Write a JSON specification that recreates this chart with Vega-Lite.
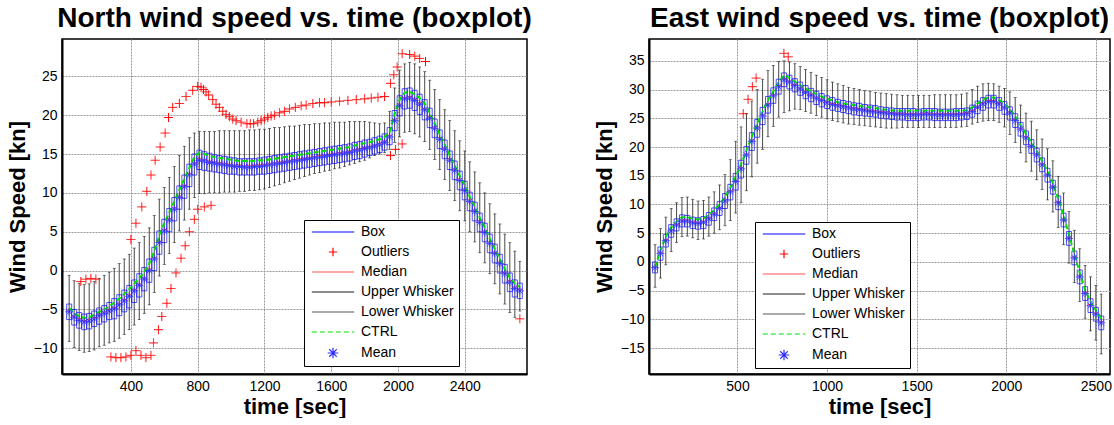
{
"$schema":"https://vega.github.io/schema/vega-lite/v6.json",
"padding":{"left":5,"top":4,"right":0,"bottom":0},
"spacing":122,
"bounds":"flush",
"resolve":{"scale":{"color":"independent","shape":"independent","strokeDash":"independent"},"legend":{"color":"independent","shape":"independent","strokeDash":"independent"}},
"datasets":{
"N":[
{"t":30,"lo":-9.1,"q1":-6.3,"md":-5.1,"q3":-4.3,"hi":-0.6,"mn":-5.3,"c":-4.8},
{"t":60,"lo":-9.9,"q1":-7.0,"md":-5.8,"q3":-5.0,"hi":-1.3,"mn":-6.0,"c":-5.5},
{"t":90,"lo":-10.3,"q1":-7.4,"md":-6.2,"q3":-5.4,"hi":-1.6,"mn":-6.4,"c":-5.9},
{"t":120,"lo":-10.5,"q1":-7.6,"md":-6.4,"q3":-5.6,"hi":-1.8,"mn":-6.6,"c":-6.1},
{"t":150,"lo":-10.4,"q1":-7.5,"md":-6.3,"q3":-5.5,"hi":-1.7,"mn":-6.5,"c":-6.0},
{"t":180,"lo":-10.2,"q1":-7.2,"md":-6.0,"q3":-5.2,"hi":-1.4,"mn":-6.2,"c":-5.7},
{"t":210,"lo":-9.8,"q1":-6.9,"md":-5.6,"q3":-4.8,"hi":-1.0,"mn":-5.8,"c":-5.3},
{"t":240,"lo":-9.6,"q1":-6.6,"md":-5.3,"q3":-4.5,"hi":-0.6,"mn":-5.5,"c":-5.0},
{"t":270,"lo":-9.3,"q1":-6.3,"md":-5.0,"q3":-4.1,"hi":-0.2,"mn":-5.2,"c":-4.6},
{"t":300,"lo":-9.1,"q1":-6.2,"md":-4.7,"q3":-3.6,"hi":0.3,"mn":-4.9,"c":-4.1},
{"t":330,"lo":-8.7,"q1":-5.8,"md":-4.2,"q3":-3.1,"hi":0.9,"mn":-4.4,"c":-3.6},
{"t":360,"lo":-8.2,"q1":-5.3,"md":-3.7,"q3":-2.5,"hi":1.5,"mn":-3.9,"c":-3.0},
{"t":390,"lo":-7.6,"q1":-4.8,"md":-3.1,"q3":-1.9,"hi":2.1,"mn":-3.3,"c":-2.4},
{"t":420,"lo":-7.0,"q1":-4.1,"md":-2.4,"q3":-1.2,"hi":2.9,"mn":-2.6,"c":-1.7},
{"t":450,"lo":-6.3,"q1":-3.4,"md":-1.7,"q3":-0.4,"hi":3.6,"mn":-1.9,"c":-1.0},
{"t":480,"lo":-5.5,"q1":-2.6,"md":-0.9,"q3":0.4,"hi":4.4,"mn":-1.1,"c":-0.2},
{"t":510,"lo":-4.4,"q1":-1.5,"md":0.2,"q3":1.5,"hi":5.5,"mn":0.0,"c":0.9},
{"t":540,"lo":-2.8,"q1":0.0,"md":1.7,"q3":3.0,"hi":7.1,"mn":1.5,"c":2.5},
{"t":570,"lo":-0.7,"q1":2.1,"md":3.8,"q3":5.1,"hi":9.2,"mn":3.6,"c":4.6},
{"t":600,"lo":0.8,"q1":3.6,"md":5.3,"q3":6.6,"hi":10.7,"mn":5.1,"c":6.1},
{"t":630,"lo":2.2,"q1":5.0,"md":6.7,"q3":8.0,"hi":12.0,"mn":6.5,"c":7.5},
{"t":660,"lo":3.6,"q1":6.4,"md":8.1,"q3":9.4,"hi":13.4,"mn":7.9,"c":8.9},
{"t":690,"lo":5.1,"q1":7.9,"md":9.6,"q3":10.9,"hi":14.8,"mn":9.4,"c":10.4},
{"t":720,"lo":6.5,"q1":9.3,"md":11.0,"q3":12.3,"hi":16.0,"mn":10.8,"c":11.8},
{"t":750,"lo":7.9,"q1":10.8,"md":12.5,"q3":13.7,"hi":17.1,"mn":12.3,"c":13.2},
{"t":780,"lo":9.4,"q1":12.3,"md":13.9,"q3":15.0,"hi":17.7,"mn":13.7,"c":14.6},
{"t":810,"lo":9.9,"q1":13.0,"md":14.4,"q3":15.5,"hi":17.9,"mn":14.2,"c":15.2},
{"t":840,"lo":9.9,"q1":12.9,"md":14.3,"q3":15.3,"hi":17.9,"mn":14.1,"c":15.0},
{"t":870,"lo":10.0,"q1":12.8,"md":14.1,"q3":15.1,"hi":17.9,"mn":13.9,"c":14.8},
{"t":900,"lo":10.0,"q1":12.7,"md":14.0,"q3":14.9,"hi":17.9,"mn":13.8,"c":14.6},
{"t":930,"lo":10.0,"q1":12.6,"md":13.9,"q3":14.8,"hi":18.0,"mn":13.7,"c":14.5},
{"t":960,"lo":10.1,"q1":12.5,"md":13.8,"q3":14.7,"hi":18.0,"mn":13.6,"c":14.4},
{"t":990,"lo":10.1,"q1":12.4,"md":13.7,"q3":14.6,"hi":18.0,"mn":13.5,"c":14.3},
{"t":1020,"lo":10.1,"q1":12.4,"md":13.6,"q3":14.5,"hi":18.0,"mn":13.4,"c":14.2},
{"t":1050,"lo":10.2,"q1":12.3,"md":13.6,"q3":14.4,"hi":18.0,"mn":13.4,"c":14.1},
{"t":1080,"lo":10.2,"q1":12.3,"md":13.5,"q3":14.4,"hi":18.0,"mn":13.3,"c":14.1},
{"t":1110,"lo":10.3,"q1":12.3,"md":13.5,"q3":14.4,"hi":18.1,"mn":13.3,"c":14.1},
{"t":1140,"lo":10.3,"q1":12.3,"md":13.6,"q3":14.4,"hi":18.1,"mn":13.4,"c":14.1},
{"t":1170,"lo":10.4,"q1":12.4,"md":13.6,"q3":14.5,"hi":18.2,"mn":13.4,"c":14.2},
{"t":1200,"lo":10.5,"q1":12.4,"md":13.7,"q3":14.6,"hi":18.2,"mn":13.5,"c":14.2},
{"t":1230,"lo":10.7,"q1":12.5,"md":13.8,"q3":14.7,"hi":18.3,"mn":13.6,"c":14.3},
{"t":1260,"lo":10.9,"q1":12.6,"md":13.9,"q3":14.8,"hi":18.4,"mn":13.7,"c":14.4},
{"t":1290,"lo":11.1,"q1":12.7,"md":14.0,"q3":14.9,"hi":18.4,"mn":13.8,"c":14.5},
{"t":1320,"lo":11.3,"q1":12.8,"md":14.1,"q3":15.0,"hi":18.5,"mn":13.9,"c":14.6},
{"t":1350,"lo":11.5,"q1":12.9,"md":14.2,"q3":15.1,"hi":18.6,"mn":14.0,"c":14.7},
{"t":1380,"lo":11.7,"q1":13.0,"md":14.3,"q3":15.2,"hi":18.6,"mn":14.1,"c":14.8},
{"t":1410,"lo":11.9,"q1":13.1,"md":14.4,"q3":15.3,"hi":18.7,"mn":14.2,"c":14.9},
{"t":1440,"lo":12.1,"q1":13.2,"md":14.5,"q3":15.4,"hi":18.8,"mn":14.3,"c":15.0},
{"t":1470,"lo":12.3,"q1":13.3,"md":14.6,"q3":15.5,"hi":18.8,"mn":14.4,"c":15.1},
{"t":1500,"lo":12.5,"q1":13.4,"md":14.7,"q3":15.6,"hi":18.9,"mn":14.5,"c":15.2},
{"t":1530,"lo":12.6,"q1":13.5,"md":14.8,"q3":15.7,"hi":18.9,"mn":14.6,"c":15.3},
{"t":1560,"lo":12.8,"q1":13.6,"md":14.9,"q3":15.8,"hi":19.0,"mn":14.7,"c":15.4},
{"t":1590,"lo":12.9,"q1":13.7,"md":15.0,"q3":15.9,"hi":19.0,"mn":14.8,"c":15.5},
{"t":1620,"lo":13.1,"q1":13.8,"md":15.1,"q3":16.0,"hi":19.1,"mn":14.9,"c":15.6},
{"t":1650,"lo":13.2,"q1":13.9,"md":15.2,"q3":16.1,"hi":19.1,"mn":15.0,"c":15.7},
{"t":1680,"lo":13.4,"q1":14.0,"md":15.3,"q3":16.2,"hi":19.1,"mn":15.1,"c":15.8},
{"t":1710,"lo":13.6,"q1":14.1,"md":15.4,"q3":16.3,"hi":19.2,"mn":15.2,"c":15.9},
{"t":1740,"lo":13.8,"q1":14.3,"md":15.6,"q3":16.5,"hi":19.2,"mn":15.4,"c":16.1},
{"t":1770,"lo":14.0,"q1":14.4,"md":15.7,"q3":16.6,"hi":19.2,"mn":15.5,"c":16.2},
{"t":1800,"lo":14.2,"q1":14.6,"md":15.9,"q3":16.8,"hi":19.2,"mn":15.7,"c":16.4},
{"t":1830,"lo":14.5,"q1":14.8,"md":16.0,"q3":16.9,"hi":19.1,"mn":15.8,"c":16.5},
{"t":1860,"lo":14.8,"q1":15.0,"md":16.2,"q3":17.1,"hi":19.0,"mn":16.0,"c":16.7},
{"t":1890,"lo":15.0,"q1":15.2,"md":16.4,"q3":17.3,"hi":18.9,"mn":16.2,"c":16.9},
{"t":1920,"lo":15.2,"q1":15.5,"md":16.7,"q3":17.6,"hi":19.0,"mn":16.5,"c":17.2},
{"t":1950,"lo":15.6,"q1":16.2,"md":17.4,"q3":18.4,"hi":20.5,"mn":17.2,"c":17.8},
{"t":1980,"lo":16.5,"q1":18.0,"md":19.5,"q3":20.6,"hi":23.5,"mn":19.3,"c":20.2},
{"t":2010,"lo":17.2,"q1":19.9,"md":21.4,"q3":22.5,"hi":25.8,"mn":21.2,"c":22.0},
{"t":2040,"lo":17.8,"q1":20.8,"md":22.3,"q3":23.4,"hi":26.6,"mn":22.1,"c":22.9},
{"t":2070,"lo":17.9,"q1":20.9,"md":22.4,"q3":23.5,"hi":26.8,"mn":22.2,"c":23.0},
{"t":2100,"lo":17.6,"q1":20.6,"md":22.1,"q3":23.2,"hi":26.6,"mn":21.9,"c":22.7},
{"t":2130,"lo":17.2,"q1":20.1,"md":21.6,"q3":22.7,"hi":26.2,"mn":21.4,"c":22.2},
{"t":2160,"lo":16.6,"q1":19.4,"md":20.9,"q3":22.0,"hi":25.6,"mn":20.7,"c":21.5},
{"t":2190,"lo":15.6,"q1":18.4,"md":19.8,"q3":20.9,"hi":24.5,"mn":19.6,"c":20.3},
{"t":2220,"lo":14.3,"q1":17.1,"md":18.5,"q3":19.5,"hi":23.3,"mn":18.3,"c":18.9},
{"t":2250,"lo":13.0,"q1":15.7,"md":17.1,"q3":18.1,"hi":22.0,"mn":16.9,"c":17.5},
{"t":2280,"lo":11.7,"q1":14.4,"md":15.8,"q3":16.8,"hi":20.7,"mn":15.6,"c":16.2},
{"t":2310,"lo":10.3,"q1":13.0,"md":14.4,"q3":15.4,"hi":19.3,"mn":14.2,"c":14.8},
{"t":2340,"lo":9.0,"q1":11.7,"md":13.1,"q3":14.1,"hi":18.0,"mn":12.9,"c":13.5},
{"t":2370,"lo":7.7,"q1":10.4,"md":11.8,"q3":12.8,"hi":16.7,"mn":11.6,"c":12.2},
{"t":2400,"lo":6.4,"q1":9.1,"md":10.5,"q3":11.5,"hi":15.4,"mn":10.3,"c":10.9},
{"t":2430,"lo":5.0,"q1":7.7,"md":9.1,"q3":10.1,"hi":14.0,"mn":8.9,"c":9.5},
{"t":2460,"lo":3.7,"q1":6.4,"md":7.8,"q3":8.8,"hi":12.7,"mn":7.6,"c":8.2},
{"t":2490,"lo":2.3,"q1":5.0,"md":6.4,"q3":7.4,"hi":11.3,"mn":6.2,"c":6.8},
{"t":2520,"lo":1.0,"q1":3.7,"md":5.1,"q3":6.1,"hi":10.0,"mn":4.9,"c":5.5},
{"t":2550,"lo":-0.4,"q1":2.3,"md":3.7,"q3":4.7,"hi":8.6,"mn":3.5,"c":4.1},
{"t":2580,"lo":-1.7,"q1":1.0,"md":2.4,"q3":3.4,"hi":7.3,"mn":2.2,"c":2.8},
{"t":2610,"lo":-3.0,"q1":-0.3,"md":1.1,"q3":2.1,"hi":6.0,"mn":0.9,"c":1.5},
{"t":2640,"lo":-4.3,"q1":-1.6,"md":-0.2,"q3":0.8,"hi":4.7,"mn":-0.4,"c":0.2},
{"t":2670,"lo":-5.4,"q1":-2.7,"md":-1.3,"q3":-0.3,"hi":3.6,"mn":-1.5,"c":-0.9},
{"t":2700,"lo":-6.0,"q1":-3.4,"md":-2.1,"q3":-1.2,"hi":2.5,"mn":-2.3,"c":-1.7},
{"t":2730,"lo":-5.2,"q1":-3.6,"md":-2.4,"q3":-1.6,"hi":1.2,"mn":-2.6,"c":-2.1}
],
"No":[
{"t":100,"v":-1.4,"s":"Outliers"},{"t":130,"v":-1.1,"s":"Outliers"},{"t":160,"v":-1.0,"s":"Outliers"},{"t":190,"v":-1.1,"s":"Outliers"},
{"t":280,"v":-11.1,"s":"Outliers"},{"t":310,"v":-11.2,"s":"Outliers"},{"t":340,"v":-11.2,"s":"Outliers"},{"t":370,"v":-11.1,"s":"Outliers"},{"t":400,"v":-10.9,"s":"Outliers"},{"t":430,"v":-10.3,"s":"Outliers"},{"t":460,"v":-10.9,"s":"Outliers"},{"t":490,"v":-11.2,"s":"Outliers"},{"t":520,"v":-10.9,"s":"Outliers"},
{"t":400,"v":4.0,"s":"Outliers"},{"t":430,"v":6.1,"s":"Outliers"},{"t":465,"v":8.2,"s":"Outliers"},{"t":495,"v":10.2,"s":"Outliers"},{"t":520,"v":12.3,"s":"Outliers"},{"t":545,"v":14.2,"s":"Outliers"},{"t":575,"v":15.9,"s":"Outliers"},{"t":605,"v":17.7,"s":"Outliers"},{"t":625,"v":19.7,"s":"Outliers"},{"t":650,"v":21.0,"s":"Outliers"},{"t":690,"v":21.5,"s":"Outliers"},{"t":730,"v":22.4,"s":"Outliers"},{"t":770,"v":23.2,"s":"Outliers"},{"t":800,"v":23.7,"s":"Outliers"},{"t":820,"v":23.6,"s":"Outliers"},{"t":835,"v":23.3,"s":"Outliers"},{"t":850,"v":23.0,"s":"Outliers"},{"t":865,"v":22.6,"s":"Outliers"},{"t":890,"v":22.0,"s":"Outliers"},{"t":910,"v":21.4,"s":"Outliers"},{"t":930,"v":21.0,"s":"Outliers"},{"t":950,"v":20.5,"s":"Outliers"},{"t":970,"v":20.1,"s":"Outliers"},{"t":990,"v":19.8,"s":"Outliers"},{"t":1010,"v":19.5,"s":"Outliers"},{"t":1030,"v":19.3,"s":"Outliers"},{"t":1060,"v":19.1,"s":"Outliers"},{"t":1095,"v":18.9,"s":"Outliers"},{"t":1115,"v":18.9,"s":"Outliers"},{"t":1135,"v":18.9,"s":"Outliers"},{"t":1160,"v":19.1,"s":"Outliers"},{"t":1180,"v":19.3,"s":"Outliers"},{"t":1200,"v":19.5,"s":"Outliers"},{"t":1220,"v":19.7,"s":"Outliers"},{"t":1240,"v":19.9,"s":"Outliers"},{"t":1260,"v":20.0,"s":"Outliers"},{"t":1290,"v":20.3,"s":"Outliers"},{"t":1320,"v":20.5,"s":"Outliers"},{"t":1350,"v":20.8,"s":"Outliers"},{"t":1385,"v":21.0,"s":"Outliers"},{"t":1420,"v":21.2,"s":"Outliers"},{"t":1450,"v":21.3,"s":"Outliers"},{"t":1490,"v":21.5,"s":"Outliers"},{"t":1530,"v":21.6,"s":"Outliers"},{"t":1560,"v":21.6,"s":"Outliers"},{"t":1600,"v":21.7,"s":"Outliers"},{"t":1650,"v":21.8,"s":"Outliers"},{"t":1700,"v":21.9,"s":"Outliers"},{"t":1750,"v":22.0,"s":"Outliers"},{"t":1800,"v":22.1,"s":"Outliers"},{"t":1840,"v":22.2,"s":"Outliers"},{"t":1880,"v":22.3,"s":"Outliers"},{"t":1920,"v":22.4,"s":"Outliers"},
{"t":1955,"v":24.1,"s":"Outliers"},{"t":1975,"v":25.2,"s":"Outliers"},{"t":1995,"v":26.2,"s":"Outliers"},{"t":2025,"v":27.9,"s":"Outliers"},{"t":2070,"v":27.8,"s":"Outliers"},{"t":2100,"v":27.6,"s":"Outliers"},{"t":2130,"v":27.3,"s":"Outliers"},{"t":2165,"v":26.9,"s":"Outliers"},
{"t":535,"v":-9.3,"s":"Outliers"},{"t":565,"v":-7.6,"s":"Outliers"},{"t":585,"v":-5.9,"s":"Outliers"},{"t":615,"v":-4.2,"s":"Outliers"},{"t":640,"v":-2.3,"s":"Outliers"},{"t":670,"v":-0.3,"s":"Outliers"},{"t":700,"v":1.6,"s":"Outliers"},{"t":725,"v":3.2,"s":"Outliers"},{"t":750,"v":5.0,"s":"Outliers"},{"t":780,"v":6.6,"s":"Outliers"},{"t":800,"v":7.9,"s":"Outliers"},{"t":840,"v":8.2,"s":"Outliers"},{"t":880,"v":8.4,"s":"Outliers"},
{"t":1955,"v":14.8,"s":"Outliers"},{"t":1985,"v":15.6,"s":"Outliers"},{"t":2025,"v":16.3,"s":"Outliers"},
{"t":2730,"v":-6.2,"s":"Outliers"}
],
"E":[
{"t":40,"lo":-4.4,"q1":-1.9,"md":-0.8,"q3":0.0,"hi":3.0,"mn":-1.0,"c":-0.9},
{"t":70,"lo":-2.8,"q1":0.3,"md":1.7,"q3":2.6,"hi":5.8,"mn":1.5,"c":2.0},
{"t":100,"lo":-0.5,"q1":2.6,"md":3.9,"q3":4.8,"hi":7.8,"mn":3.7,"c":4.4},
{"t":130,"lo":1.8,"q1":4.3,"md":5.6,"q3":6.5,"hi":9.3,"mn":5.4,"c":6.0},
{"t":160,"lo":3.4,"q1":5.4,"md":6.6,"q3":7.5,"hi":10.3,"mn":6.4,"c":7.0},
{"t":190,"lo":4.4,"q1":6.1,"md":7.3,"q3":8.2,"hi":11.2,"mn":7.1,"c":7.8},
{"t":220,"lo":4.5,"q1":6.1,"md":7.3,"q3":8.1,"hi":11.3,"mn":7.1,"c":7.8},
{"t":250,"lo":4.2,"q1":5.8,"md":7.0,"q3":7.8,"hi":10.9,"mn":6.8,"c":7.5},
{"t":280,"lo":3.9,"q1":5.7,"md":6.9,"q3":7.7,"hi":10.6,"mn":6.7,"c":7.4},
{"t":310,"lo":4.0,"q1":5.8,"md":7.1,"q3":7.9,"hi":10.7,"mn":6.9,"c":7.6},
{"t":340,"lo":4.5,"q1":6.4,"md":7.7,"q3":8.6,"hi":11.3,"mn":7.5,"c":8.2},
{"t":370,"lo":5.0,"q1":7.2,"md":8.5,"q3":9.4,"hi":12.2,"mn":8.3,"c":9.0},
{"t":400,"lo":5.6,"q1":8.1,"md":9.5,"q3":10.5,"hi":13.4,"mn":9.3,"c":10.0},
{"t":430,"lo":6.3,"q1":9.3,"md":10.8,"q3":11.9,"hi":15.2,"mn":10.6,"c":11.3},
{"t":460,"lo":7.2,"q1":10.8,"md":12.4,"q3":13.5,"hi":17.8,"mn":12.2,"c":12.9},
{"t":490,"lo":8.5,"q1":12.5,"md":14.2,"q3":15.4,"hi":21.0,"mn":14.0,"c":14.8},
{"t":520,"lo":10.3,"q1":14.6,"md":16.4,"q3":17.7,"hi":23.5,"mn":16.2,"c":17.0},
{"t":550,"lo":12.4,"q1":17.0,"md":18.8,"q3":20.1,"hi":25.8,"mn":18.6,"c":19.4},
{"t":580,"lo":14.8,"q1":19.4,"md":21.2,"q3":22.5,"hi":28.0,"mn":21.0,"c":21.8},
{"t":610,"lo":17.2,"q1":21.7,"md":23.5,"q3":24.8,"hi":30.0,"mn":23.3,"c":24.1},
{"t":640,"lo":19.6,"q1":23.9,"md":25.6,"q3":26.9,"hi":31.8,"mn":25.4,"c":26.2},
{"t":670,"lo":21.8,"q1":25.9,"md":27.5,"q3":28.8,"hi":33.3,"mn":27.3,"c":28.1},
{"t":700,"lo":23.6,"q1":27.6,"md":29.1,"q3":30.3,"hi":34.2,"mn":28.9,"c":29.7},
{"t":730,"lo":25.2,"q1":29.2,"md":30.7,"q3":31.8,"hi":34.9,"mn":30.5,"c":31.3},
{"t":760,"lo":26.0,"q1":30.5,"md":31.9,"q3":32.9,"hi":35.0,"mn":31.7,"c":32.5},
{"t":790,"lo":26.3,"q1":30.1,"md":31.5,"q3":32.5,"hi":34.8,"mn":31.3,"c":32.0},
{"t":820,"lo":26.6,"q1":29.6,"md":30.9,"q3":31.9,"hi":34.5,"mn":30.7,"c":31.4},
{"t":850,"lo":26.5,"q1":29.0,"md":30.3,"q3":31.3,"hi":34.0,"mn":30.1,"c":30.8},
{"t":880,"lo":26.2,"q1":28.4,"md":29.7,"q3":30.7,"hi":33.5,"mn":29.5,"c":30.2},
{"t":910,"lo":25.9,"q1":27.9,"md":29.2,"q3":30.2,"hi":33.0,"mn":29.0,"c":29.7},
{"t":940,"lo":25.5,"q1":27.4,"md":28.7,"q3":29.7,"hi":32.5,"mn":28.5,"c":29.2},
{"t":970,"lo":25.2,"q1":27.0,"md":28.3,"q3":29.3,"hi":32.1,"mn":28.1,"c":28.8},
{"t":1000,"lo":24.9,"q1":26.7,"md":27.9,"q3":28.9,"hi":31.7,"mn":27.7,"c":28.4},
{"t":1030,"lo":24.6,"q1":26.4,"md":27.6,"q3":28.6,"hi":31.3,"mn":27.4,"c":28.1},
{"t":1060,"lo":24.4,"q1":26.2,"md":27.4,"q3":28.3,"hi":31.0,"mn":27.2,"c":27.8},
{"t":1090,"lo":24.2,"q1":26.0,"md":27.2,"q3":28.1,"hi":30.7,"mn":27.0,"c":27.6},
{"t":1120,"lo":24.0,"q1":25.8,"md":27.0,"q3":27.9,"hi":30.4,"mn":26.8,"c":27.4},
{"t":1150,"lo":23.9,"q1":25.6,"md":26.8,"q3":27.7,"hi":30.2,"mn":26.6,"c":27.3},
{"t":1180,"lo":23.8,"q1":25.5,"md":26.7,"q3":27.6,"hi":30.0,"mn":26.5,"c":27.2},
{"t":1210,"lo":23.7,"q1":25.4,"md":26.6,"q3":27.4,"hi":29.8,"mn":26.4,"c":27.0},
{"t":1240,"lo":23.6,"q1":25.3,"md":26.4,"q3":27.3,"hi":29.7,"mn":26.2,"c":26.9},
{"t":1270,"lo":23.5,"q1":25.2,"md":26.3,"q3":27.2,"hi":29.5,"mn":26.1,"c":26.8},
{"t":1300,"lo":23.4,"q1":25.0,"md":26.2,"q3":27.0,"hi":29.4,"mn":26.0,"c":26.6},
{"t":1330,"lo":23.3,"q1":24.9,"md":26.1,"q3":26.9,"hi":29.3,"mn":25.9,"c":26.5},
{"t":1360,"lo":23.3,"q1":24.8,"md":26.0,"q3":26.8,"hi":29.2,"mn":25.8,"c":26.4},
{"t":1390,"lo":23.3,"q1":24.7,"md":25.9,"q3":26.7,"hi":29.1,"mn":25.7,"c":26.3},
{"t":1420,"lo":23.4,"q1":24.7,"md":25.9,"q3":26.7,"hi":29.0,"mn":25.7,"c":26.3},
{"t":1450,"lo":23.4,"q1":24.6,"md":25.8,"q3":26.7,"hi":29.0,"mn":25.6,"c":26.3},
{"t":1480,"lo":23.4,"q1":24.6,"md":25.8,"q3":26.7,"hi":29.0,"mn":25.6,"c":26.3},
{"t":1510,"lo":23.4,"q1":24.6,"md":25.8,"q3":26.6,"hi":29.0,"mn":25.6,"c":26.3},
{"t":1540,"lo":23.4,"q1":24.7,"md":25.9,"q3":26.7,"hi":29.0,"mn":25.7,"c":26.3},
{"t":1570,"lo":23.4,"q1":24.7,"md":25.9,"q3":26.7,"hi":29.0,"mn":25.7,"c":26.3},
{"t":1600,"lo":23.4,"q1":24.6,"md":25.8,"q3":26.7,"hi":29.1,"mn":25.6,"c":26.3},
{"t":1630,"lo":23.4,"q1":24.6,"md":25.8,"q3":26.6,"hi":29.1,"mn":25.6,"c":26.3},
{"t":1660,"lo":23.4,"q1":24.6,"md":25.8,"q3":26.6,"hi":29.1,"mn":25.6,"c":26.3},
{"t":1690,"lo":23.4,"q1":24.6,"md":25.8,"q3":26.6,"hi":29.1,"mn":25.6,"c":26.3},
{"t":1720,"lo":23.4,"q1":24.6,"md":25.8,"q3":26.7,"hi":29.1,"mn":25.6,"c":26.3},
{"t":1750,"lo":23.5,"q1":24.7,"md":25.9,"q3":26.7,"hi":29.2,"mn":25.7,"c":26.3},
{"t":1780,"lo":23.6,"q1":24.8,"md":26.0,"q3":26.8,"hi":29.4,"mn":25.8,"c":26.4},
{"t":1810,"lo":24.0,"q1":25.2,"md":26.4,"q3":27.3,"hi":30.0,"mn":26.2,"c":26.9},
{"t":1840,"lo":24.3,"q1":25.8,"md":27.1,"q3":28.0,"hi":30.6,"mn":26.9,"c":27.6},
{"t":1870,"lo":24.5,"q1":26.4,"md":27.7,"q3":28.6,"hi":31.0,"mn":27.5,"c":28.2},
{"t":1900,"lo":24.6,"q1":26.8,"md":28.1,"q3":29.0,"hi":31.1,"mn":27.9,"c":28.6},
{"t":1930,"lo":24.6,"q1":26.8,"md":28.1,"q3":29.0,"hi":31.0,"mn":27.9,"c":28.6},
{"t":1960,"lo":24.3,"q1":26.4,"md":27.7,"q3":28.6,"hi":30.6,"mn":27.5,"c":28.2},
{"t":1990,"lo":23.5,"q1":25.7,"md":27.0,"q3":27.9,"hi":30.2,"mn":26.8,"c":27.5},
{"t":2020,"lo":22.2,"q1":24.7,"md":26.1,"q3":27.0,"hi":29.6,"mn":25.9,"c":26.6},
{"t":2050,"lo":20.8,"q1":23.4,"md":24.8,"q3":25.8,"hi":28.6,"mn":24.6,"c":25.3},
{"t":2080,"lo":19.0,"q1":21.9,"md":23.3,"q3":24.3,"hi":27.3,"mn":23.1,"c":23.8},
{"t":2110,"lo":17.4,"q1":20.4,"md":21.8,"q3":22.8,"hi":25.9,"mn":21.6,"c":22.3},
{"t":2140,"lo":15.8,"q1":18.9,"md":20.3,"q3":21.3,"hi":24.5,"mn":20.1,"c":20.8},
{"t":2170,"lo":14.3,"q1":17.4,"md":18.8,"q3":19.8,"hi":23.0,"mn":18.6,"c":19.3},
{"t":2200,"lo":12.6,"q1":15.7,"md":17.1,"q3":18.1,"hi":21.4,"mn":16.9,"c":17.6},
{"t":2230,"lo":10.8,"q1":13.9,"md":15.3,"q3":16.3,"hi":19.7,"mn":15.1,"c":15.8},
{"t":2260,"lo":8.7,"q1":11.8,"md":13.2,"q3":14.2,"hi":17.6,"mn":13.0,"c":13.7},
{"t":2290,"lo":6.0,"q1":9.1,"md":10.5,"q3":11.5,"hi":14.9,"mn":10.3,"c":11.0},
{"t":2320,"lo":3.0,"q1":6.1,"md":7.5,"q3":8.5,"hi":12.0,"mn":7.3,"c":8.0},
{"t":2350,"lo":-0.2,"q1":2.9,"md":4.3,"q3":5.3,"hi":8.8,"mn":4.1,"c":4.8},
{"t":2380,"lo":-3.6,"q1":-0.5,"md":0.9,"q3":1.9,"hi":5.5,"mn":0.7,"c":1.4},
{"t":2410,"lo":-6.9,"q1":-3.8,"md":-2.4,"q3":-1.4,"hi":2.3,"mn":-2.6,"c":-1.9},
{"t":2440,"lo":-9.8,"q1":-6.7,"md":-5.3,"q3":-4.3,"hi":-0.6,"mn":-5.5,"c":-4.8},
{"t":2470,"lo":-12.0,"q1":-8.8,"md":-7.4,"q3":-6.4,"hi":-2.6,"mn":-7.6,"c":-6.9},
{"t":2500,"lo":-13.6,"q1":-10.3,"md":-8.9,"q3":-7.9,"hi":-4.1,"mn":-9.1,"c":-8.4},
{"t":2530,"lo":-16.0,"q1":-11.8,"md":-10.4,"q3":-9.4,"hi":-5.6,"mn":-10.6,"c":-9.9}
],
"Eo":[
{"t":532,"v":25.8,"s":"Outliers"},{"t":559,"v":28.3,"s":"Outliers"},{"t":583,"v":30.5,"s":"Outliers"},{"t":604,"v":32.0,"s":"Outliers"},{"t":759,"v":36.3,"s":"Outliers"},{"t":783,"v":35.7,"s":"Outliers"}
]
},
"hconcat":[
{
"width":465,"height":335,
"title":"North wind speed vs. time (boxplot)",
"encoding":{"x":{"field":"t","type":"quantitative","title":"time [sec]","scale":{"domain":[17,2743],"nice":false,"zero":false},"axis":{"values":[400,800,1200,1600,2000,2400],"format":"d","tickCount":30}}},
"layer":[
{"data":{"name":"N"},"mark":{"type":"rule","color":"#1a1a1a","strokeWidth":0.8},"encoding":{"y":{"field":"lo","type":"quantitative","title":"Wind Speed [kn]","scale":{"domain":[-13.3,29.8],"nice":false,"zero":false},"axis":{"values":[-10,-5,0,5,10,15,20,25],"format":"d","tickCount":30}},"y2":{"field":"hi"}}},
{"data":{"name":"N"},"mark":{"type":"tick","orient":"horizontal","size":3,"thickness":0.8,"color":"#1a1a1a"},"encoding":{"y":{"field":"hi","type":"quantitative","title":"Wind Speed [kn]"}}},
{"data":{"name":"N"},"mark":{"type":"tick","orient":"horizontal","size":3,"thickness":0.8,"color":"#1a1a1a"},"encoding":{"y":{"field":"lo","type":"quantitative","title":"Wind Speed [kn]"}}},
{"data":{"name":"N"},"mark":{"type":"bar","width":5,"filled":false,"color":"#0000ff","strokeWidth":0.8,"opacity":0.85},"encoding":{"y":{"field":"q1","type":"quantitative","title":"Wind Speed [kn]"},"y2":{"field":"q3"}}},
{"data":{"name":"N"},"mark":{"type":"tick","orient":"horizontal","size":5,"thickness":1,"color":"#ff2020"},"encoding":{"y":{"field":"md","type":"quantitative","title":"Wind Speed [kn]"}}},
{"data":{"name":"N"},"mark":{"type":"line","color":"#00e000","strokeDash":[5,3],"strokeWidth":2},"encoding":{"y":{"field":"c","type":"quantitative","title":"Wind Speed [kn]"}}},
{"data":{"name":"N"},"mark":{"type":"point","shape":"M-1,0H1M0,-1V1M-0.7,-0.7L0.7,0.7M-0.7,0.7L0.7,-0.7","size":64,"color":"#2b2bff","filled":false,"strokeWidth":0.8,"opacity":1},"encoding":{"y":{"field":"mn","type":"quantitative","title":"Wind Speed [kn]"}}},
{"data":{"name":"No"},"mark":{"type":"point","size":32,"filled":false,"strokeWidth":1,"opacity":1},"encoding":{
"y":{"field":"v","type":"quantitative","title":"Wind Speed [kn]"},
"color":{"field":"s","type":"nominal","scale":{"domain":["Box","Outliers","Median","Upper Whisker","Lower Whisker","CTRL","Mean"],"range":["#0000ff","#ff0000","#ff5050","#1a1a1a","#555555","#00e000","#2b2bff"]},"legend":{"title":null,"orient":"none","legendX":242,"legendY":181}},
"shape":{"field":"s","type":"nominal","scale":{"domain":["Box","Outliers","Median","Upper Whisker","Lower Whisker","CTRL","Mean"],"range":["M-8,0H8","M-1.6,0H1.6M0,-1.6V1.6","M-8,0H8","M-8,0H8","M-8,0H8","M-8,0H8","M-2,0H2M0,-2V2M-1.4,-1.4L1.4,1.4M-1.4,1.4L1.4,-1.4"]},"legend":{"title":null,"orient":"none","legendX":242,"legendY":181}},
"strokeDash":{"field":"s","type":"nominal","scale":{"domain":["Box","Outliers","Median","Upper Whisker","Lower Whisker","CTRL","Mean"],"range":[[1,0],[1,0],[1,0],[1,0],[1,0],[5,3],[1,0]]},"legend":{"title":null,"orient":"none","legendX":242,"legendY":181}}
}}
]
},
{
"width":461,"height":335,
"title":"East wind speed vs. time (boxplot)",
"encoding":{"x":{"field":"t","type":"quantitative","title":"time [sec]","scale":{"domain":[34,2551],"nice":false,"zero":false},"axis":{"values":[500,1000,1500,2000,2500],"format":"d","tickCount":30}}},
"layer":[
{"data":{"name":"E"},"mark":{"type":"rule","color":"#1a1a1a","strokeWidth":0.8},"encoding":{"y":{"field":"lo","type":"quantitative","title":"Wind Speed [kn]","scale":{"domain":[-19.5,38.8],"nice":false,"zero":false},"axis":{"values":[-15,-10,-5,0,5,10,15,20,25,30,35],"format":"d","tickCount":30}},"y2":{"field":"hi"}}},
{"data":{"name":"E"},"mark":{"type":"tick","orient":"horizontal","size":3,"thickness":0.8,"color":"#1a1a1a"},"encoding":{"y":{"field":"hi","type":"quantitative","title":"Wind Speed [kn]"}}},
{"data":{"name":"E"},"mark":{"type":"tick","orient":"horizontal","size":3,"thickness":0.8,"color":"#1a1a1a"},"encoding":{"y":{"field":"lo","type":"quantitative","title":"Wind Speed [kn]"}}},
{"data":{"name":"E"},"mark":{"type":"bar","width":5,"filled":false,"color":"#0000ff","strokeWidth":0.8,"opacity":0.85},"encoding":{"y":{"field":"q1","type":"quantitative","title":"Wind Speed [kn]"},"y2":{"field":"q3"}}},
{"data":{"name":"E"},"mark":{"type":"tick","orient":"horizontal","size":5,"thickness":1,"color":"#ff2020"},"encoding":{"y":{"field":"md","type":"quantitative","title":"Wind Speed [kn]"}}},
{"data":{"name":"E"},"mark":{"type":"line","color":"#00e000","strokeDash":[5,3],"strokeWidth":2},"encoding":{"y":{"field":"c","type":"quantitative","title":"Wind Speed [kn]"}}},
{"data":{"name":"E"},"mark":{"type":"point","shape":"M-1,0H1M0,-1V1M-0.7,-0.7L0.7,0.7M-0.7,0.7L0.7,-0.7","size":64,"color":"#2b2bff","filled":false,"strokeWidth":0.8,"opacity":1},"encoding":{"y":{"field":"mn","type":"quantitative","title":"Wind Speed [kn]"}}},
{"data":{"name":"Eo"},"mark":{"type":"point","size":32,"filled":false,"strokeWidth":1,"opacity":1},"encoding":{
"y":{"field":"v","type":"quantitative","title":"Wind Speed [kn]"},
"color":{"field":"s","type":"nominal","scale":{"domain":["Box","Outliers","Median","Upper Whisker","Lower Whisker","CTRL","Mean"],"range":["#0000ff","#ff0000","#ff5050","#1a1a1a","#555555","#00e000","#2b2bff"]},"legend":{"title":null,"orient":"none","legendX":106,"legendY":183}},
"shape":{"field":"s","type":"nominal","scale":{"domain":["Box","Outliers","Median","Upper Whisker","Lower Whisker","CTRL","Mean"],"range":["M-8,0H8","M-1.6,0H1.6M0,-1.6V1.6","M-8,0H8","M-8,0H8","M-8,0H8","M-8,0H8","M-2,0H2M0,-2V2M-1.4,-1.4L1.4,1.4M-1.4,1.4L1.4,-1.4"]},"legend":{"title":null,"orient":"none","legendX":106,"legendY":183}},
"strokeDash":{"field":"s","type":"nominal","scale":{"domain":["Box","Outliers","Median","Upper Whisker","Lower Whisker","CTRL","Mean"],"range":[[1,0],[1,0],[1,0],[1,0],[1,0],[5,3],[1,0]]},"legend":{"title":null,"orient":"none","legendX":106,"legendY":183}}
}}
]
}
],
"config":{
"font":"Liberation Sans",
"view":{"stroke":"black","strokeWidth":1.5},
"axis":{"labelFont":"Liberation Sans","labelFontSize":14,"labelColor":"black","labelOverlap":false,"titleFont":"Liberation Sans","titleFontSize":22,"titleFontWeight":"bold","titleColor":"black","domainColor":"black","domainWidth":2,"ticks":false,"labelPadding":5,"gridColor":"#999999","gridDash":[2,1],"gridOpacity":1,"gridWidth":1},
"axisY":{"titlePadding":4},
"axisX":{"titlePadding":3},
"title":{"font":"Liberation Sans","fontSize":28,"fontWeight":"bold","color":"black","anchor":"middle","offset":6},
"legend":{"labelFont":"Liberation Sans","labelFontSize":14,"labelColor":"black","strokeColor":"black","fillColor":"white","padding":5,"symbolSize":28,"symbolStrokeWidth":1.2,"symbolOffset":17,"labelOffset":21,"rowPadding":6}
}
}
